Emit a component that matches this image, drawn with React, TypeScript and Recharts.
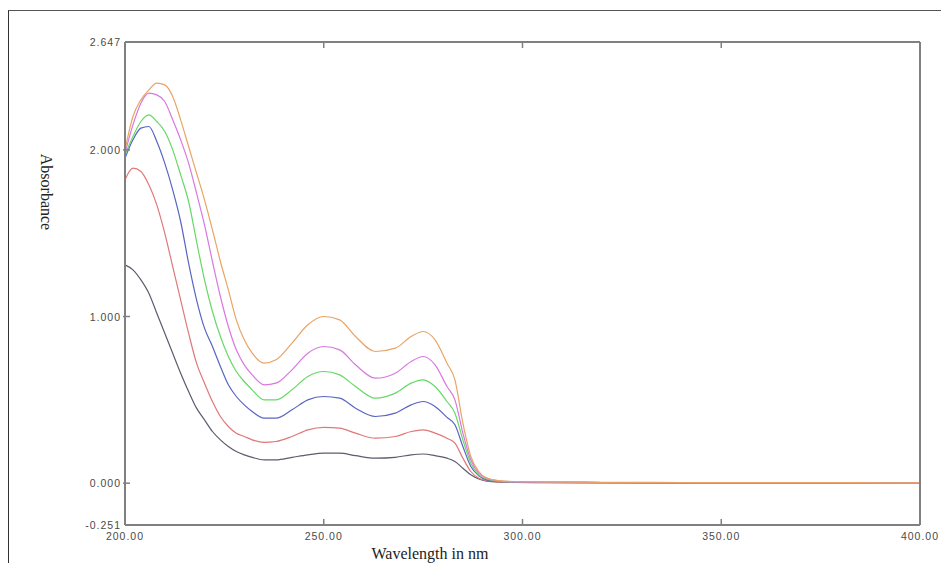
import { LineChart, Line, XAxis, YAxis } from 'recharts';

const wavelengths = [200, 202, 204, 206, 208, 210, 212, 214, 216, 218, 220, 222, 224, 226, 228, 230, 232, 235, 238, 242, 246, 250, 254, 258, 263, 268, 272, 275, 278, 281, 283, 285, 287, 289, 291, 294, 298, 305, 320, 340, 360, 380, 400];

// absorbance per standard, lowest to highest concentration
const std1 = [1.31, 1.28, 1.22, 1.14, 1.02, 0.9, 0.78, 0.66, 0.55, 0.45, 0.38, 0.31, 0.26, 0.22, 0.19, 0.17, 0.155, 0.14, 0.14, 0.155, 0.17, 0.18, 0.18, 0.165, 0.15, 0.155, 0.17, 0.175, 0.165, 0.15, 0.13, 0.09, 0.05, 0.025, 0.012, 0.006, 0.004, 0.003, 0.002, 0.002, 0.001, 0.001, 0.001];
const std2 = [1.82, 1.89, 1.87, 1.79, 1.67, 1.5, 1.3, 1.1, 0.9, 0.72, 0.6, 0.49, 0.4, 0.34, 0.3, 0.28, 0.26, 0.245, 0.25, 0.28, 0.32, 0.335, 0.33, 0.3, 0.27, 0.28, 0.31, 0.32, 0.3, 0.27, 0.24, 0.15, 0.07, 0.03, 0.015, 0.008, 0.005, 0.004, 0.003, 0.002, 0.002, 0.001, 0.001];
const std3 = [1.95, 2.06, 2.13, 2.14, 2.05, 1.92, 1.76, 1.57, 1.32, 1.1, 0.93, 0.82, 0.7, 0.59, 0.52, 0.47, 0.43, 0.39, 0.39, 0.44, 0.5, 0.52, 0.51, 0.45, 0.4, 0.42, 0.47, 0.49, 0.46, 0.395, 0.35, 0.22, 0.1, 0.045, 0.02, 0.01, 0.006, 0.005, 0.004, 0.003, 0.002, 0.002, 0.001];
const std4 = [1.97, 2.08, 2.17, 2.21, 2.17, 2.11, 2.0, 1.85, 1.69, 1.45, 1.22, 1.03, 0.88, 0.76, 0.67, 0.61, 0.56, 0.5, 0.5, 0.56, 0.64, 0.67, 0.65, 0.58, 0.51, 0.54, 0.6, 0.62, 0.58, 0.49, 0.42, 0.26, 0.12, 0.05, 0.025, 0.012, 0.007, 0.005, 0.004, 0.003, 0.002, 0.002, 0.001];
const std5 = [1.98, 2.15, 2.28, 2.34, 2.33, 2.29, 2.18, 2.06, 1.92, 1.74, 1.55, 1.33, 1.12, 0.94, 0.8, 0.71, 0.65, 0.59, 0.6, 0.68, 0.78, 0.82, 0.8, 0.71, 0.63, 0.66, 0.73, 0.76, 0.71, 0.58, 0.5, 0.3, 0.14, 0.06, 0.03, 0.014, 0.008, 0.006, 0.004, 0.003, 0.003, 0.002, 0.002];
const std6 = [2.0, 2.2, 2.3, 2.36, 2.4, 2.39, 2.32, 2.18, 2.02, 1.86, 1.7, 1.52, 1.33, 1.16, 0.98, 0.86, 0.78, 0.72, 0.74, 0.84, 0.95, 1.0, 0.98, 0.88, 0.79, 0.81, 0.88, 0.91, 0.86, 0.72, 0.62, 0.36, 0.16, 0.07, 0.03, 0.015, 0.01, 0.008, 0.005, 0.004, 0.003, 0.003, 0.002];

const xTicks = [200, 250, 300, 350, 400];
const yTicks = [-0.251, 0, 1, 2, 2.647];

const series = [
  { key: 's1', values: std1, color: '#5c5c6e' },
  { key: 's2', values: std2, color: '#e07878' },
  { key: 's3', values: std3, color: '#5a64c4' },
  { key: 's4', values: std4, color: '#66d866' },
  { key: 's5', values: std5, color: '#d878e0' },
  { key: 's6', values: std6, color: '#e8a466' },
];

const rows = wavelengths.map((w, i) => {
  const row: any = { w };
  series.forEach((s) => (row[s.key] = s.values[i]));
  return row;
});

const axisColor = '#808080';
const labelStyle = { fontFamily: '"Liberation Sans", Arial, sans-serif', fontSize: 10.5, fill: '#4a4a4a', letterSpacing: 1 };

const BottomTick = ({ x, y, payload }: any) => {
  const v = payload.value;
  const inner = v !== 200 && v !== 400;
  return (
    <g>
      {inner && <line x1={x} x2={x} y1={y} y2={y - 6} stroke={axisColor} strokeWidth={1.5} />}
      <text x={x} y={y + 15} textAnchor="middle" style={labelStyle}>{v.toFixed(2)}</text>
    </g>
  );
};

const TopTick = ({ x, y, payload }: any) => {
  const v = payload.value;
  if (v === 200 || v === 400) return null;
  return <line x1={x} x2={x} y1={y} y2={y + 6} stroke={axisColor} strokeWidth={1.5} />;
};

const LeftTick = ({ x, y, payload }: any) => {
  const v = payload.value;
  const inner = v === 0 || v === 1 || v === 2;
  return (
    <g>
      {inner && <line x1={x - 2} x2={x + 5} y1={y} y2={y} stroke={axisColor} strokeWidth={1.5} />}
      <text x={x - 4} y={y + 4} textAnchor="end" style={labelStyle}>{v.toFixed(3)}</text>
    </g>
  );
};

const RightTick = ({ x, y, payload }: any) => {
  const v = payload.value;
  if (!(v === 0 || v === 1 || v === 2)) return null;
  return <line x1={x} x2={x - 6} y1={y} y2={y} stroke={axisColor} strokeWidth={1.5} />;
};

export default function App() {
  return (
    <div style={{ position: 'absolute', left: 0, top: 0, width: 941, height: 563, overflow: 'hidden', background: '#fff' }}>
      <div style={{ position: 'absolute', left: 8, top: 10, width: 940, height: 560, borderLeft: '1.5px solid #333', borderTop: '1.5px solid #555' }} />
      <LineChart width={941} height={563} data={rows} margin={{ top: 41, right: 0, bottom: 0, left: 0 }} style={{ position: 'absolute', left: 0, top: 0 }}>
        <XAxis dataKey="w" type="number" domain={[200, 400]} ticks={xTicks} interval={0} height={38}
          axisLine={{ stroke: axisColor, strokeWidth: 2 }} tickLine={false} tickSize={0} tickMargin={0} tick={<BottomTick />} />
        <XAxis xAxisId="top" orientation="top" dataKey="w" type="number" domain={[200, 400]} ticks={xTicks} interval={0} height={1}
          axisLine={{ stroke: axisColor, strokeWidth: 2 }} tickLine={false} tickSize={0} tickMargin={0} tick={<TopTick />} />
        <YAxis type="number" domain={[-0.251, 2.647]} ticks={yTicks} interval={0} width={125}
          axisLine={{ stroke: axisColor, strokeWidth: 2 }} tickLine={false} tickSize={0} tickMargin={0} tick={<LeftTick />} />
        <YAxis yAxisId="r" orientation="right" type="number" domain={[-0.251, 2.647]} ticks={yTicks} interval={0} width={21}
          axisLine={{ stroke: axisColor, strokeWidth: 2 }} tickLine={false} tickSize={0} tickMargin={0} tick={<RightTick />} />
        {series.map((s) => (
          <Line key={s.key} dataKey={s.key} type="monotone" stroke={s.color} strokeWidth={1.2} dot={false} isAnimationActive={false} />
        ))}
      </LineChart>
      <div style={{ position: 'absolute', left: 46, top: 192, transform: 'translate(-50%, -50%) rotate(90deg)', fontFamily: '"Liberation Serif", "Times New Roman", serif', fontSize: 16, color: '#222', whiteSpace: 'nowrap' }}>
        Absorbance
      </div>
      <div style={{ position: 'absolute', left: 430, top: 545, transform: 'translateX(-50%)', fontFamily: '"Liberation Serif", "Times New Roman", serif', fontSize: 16, color: '#222', whiteSpace: 'nowrap', lineHeight: '17px' }}>
        Wavelength in nm
      </div>
    </div>
  );
}
